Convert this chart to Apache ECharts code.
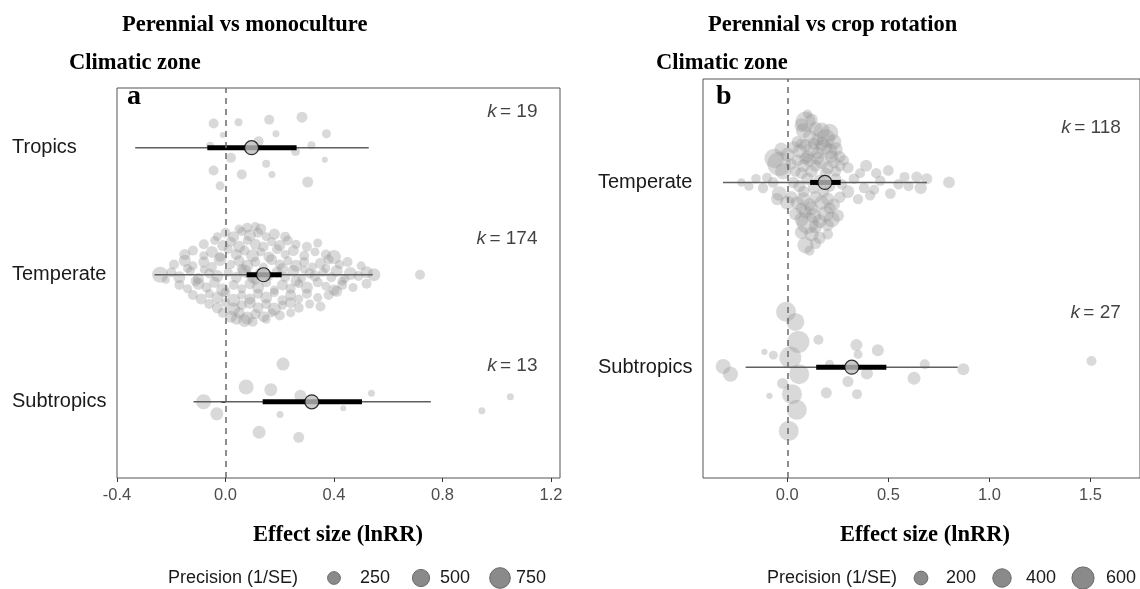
<!DOCTYPE html>
<html><head><meta charset="utf-8">
<script src="https://cdn.jsdelivr.net/npm/echarts@6/dist/echarts.min.js"></script>
<style>html,body{margin:0;padding:0;background:#fff}#c{width:1140px;height:589px}</style>
</head><body><div id="c"></div>
<script>
// ---------------- DATA ----------------
// Left panel: Perennial vs monoculture (y position: Subtropics=1, Temperate=2, Tropics=3)
const leftCategories = ['Subtropics', 'Temperate', 'Tropics'];
const leftK = [13, 174, 19];
const leftMean = [0.318, 0.140, 0.096];
const leftCILow = [0.137, 0.078, -0.067];
const leftCIHigh = [0.503, 0.207, 0.262];
const leftPILow = [-0.118, -0.262, -0.333];
const leftPIHigh = [0.757, 0.543, 0.528];
const leftXTicks = [-0.4, 0.0, 0.4, 0.8, 1.2];
const leftLegendValues = [250, 500, 750];

// individual effect sizes: [lnRR, vertical jitter, precision]
const leftTropicsPoints = [
 [-0.044,0.19,132],[0.048,0.20,64],[0.161,0.22,132],[0.282,0.24,172],[-0.01,0.10,11],
 [0.186,0.11,36],[0.372,0.11,96],[0.122,0.05,132],[-0.057,0.016,64],[0.317,0.02,64],
 [0.258,-0.03,96],[0.02,-0.08,132],[0.366,-0.095,11],[0.15,-0.126,64],[-0.044,-0.18,132],
 [0.06,-0.21,132],[0.171,-0.21,36],[0.303,-0.27,172],[-0.02,-0.30,96]
];
const leftTemperatePoints = [
 [-0.241,0.00,426],[-0.20,0.02,132],[-0.17,-0.02,215],[-0.13,0.03,96],[-0.10,-0.03,172],[-0.06,0.01,132],[-0.03,-0.01,215],[0.01,0.02,96],
 [0.04,-0.02,172],[0.07,0.03,262],[0.10,-0.03,132],[0.13,0.01,215],[0.16,-0.01,96],[0.19,0.02,172],[0.22,-0.02,132],[0.25,0.03,215],
 [0.28,-0.03,96],[0.31,0.01,132],[0.33,-0.01,172],[0.36,0.02,96],[0.39,-0.02,132],[0.41,0.03,215],[0.44,-0.03,96],[0.46,0.01,262],
 [0.49,-0.01,132],[0.52,0.02,215],[0.547,0.0,262],[-0.22,-0.04,64],[0.085,0.0,64],[0.29,0.04,64],[0.717,0.0,132],[-0.08,0.04,64],
 [-0.19,0.08,132],[-0.15,0.11,215],[-0.12,0.07,96],[-0.08,0.10,172],[-0.05,0.06,132],[-0.02,0.12,262],[0.02,0.08,96],[0.05,0.11,172],
 [0.08,0.07,215],[0.11,0.10,132],[0.14,0.06,96],[0.17,0.12,172],[0.20,0.08,132],[0.23,0.11,96],[0.26,0.07,215],[0.29,0.10,132],
 [0.32,0.06,96],[0.35,0.09,172],[0.38,0.12,132],[0.42,0.08,96],[0.45,0.10,132],[0.50,0.07,96],
 [-0.17,-0.08,132],[-0.14,-0.11,96],[-0.10,-0.07,215],[-0.07,-0.10,132],[-0.04,-0.06,172],[-0.01,-0.12,262],[0.03,-0.08,132],[0.06,-0.11,96],
 [0.09,-0.07,172],[0.12,-0.10,215],[0.15,-0.06,132],[0.18,-0.12,96],[0.21,-0.08,172],[0.24,-0.11,132],[0.27,-0.07,96],[0.30,-0.10,215],
 [0.34,-0.06,132],[0.37,-0.09,96],[0.40,-0.12,172],[0.43,-0.08,132],[0.47,-0.10,96],[0.52,-0.07,132],
 [-0.15,0.16,172],[-0.12,0.19,132],[-0.08,0.15,96],[-0.05,0.18,215],[-0.02,0.14,132],[0.01,0.20,96],[0.04,0.16,172],[0.07,0.19,132],
 [0.10,0.15,262],[0.13,0.18,96],[0.16,0.14,172],[0.19,0.20,132],[0.22,0.16,96],[0.25,0.19,172],[0.29,0.15,132],[0.33,0.18,96],
 [0.37,0.16,132],[0.40,0.14,313],
 [-0.12,-0.16,132],[-0.09,-0.19,172],[-0.06,-0.15,96],[-0.03,-0.18,215],[0.0,-0.14,132],[0.03,-0.20,262],[0.06,-0.16,96],[0.09,-0.19,172],
 [0.12,-0.15,132],[0.15,-0.18,215],[0.18,-0.14,96],[0.21,-0.20,132],[0.24,-0.16,172],[0.27,-0.19,96],[0.30,-0.15,132],[0.34,-0.18,96],
 [0.38,-0.16,132],[0.41,-0.13,172],
 [-0.08,0.24,132],[-0.04,0.27,96],[-0.01,0.23,172],[0.02,0.26,132],[0.05,0.22,215],[0.08,0.27,96],[0.11,0.24,172],[0.14,0.22,132],
 [0.17,0.26,96],[0.20,0.23,172],[0.23,0.27,132],[0.26,0.24,96],[0.30,0.22,132],[0.34,0.25,96],
 [-0.06,-0.23,132],[-0.03,-0.26,172],[0.0,-0.22,96],[0.03,-0.27,262],[0.06,-0.24,132],[0.09,-0.22,215],[0.12,-0.26,172],[0.15,-0.23,132],
 [0.18,-0.27,262],[0.21,-0.24,96],[0.24,-0.22,172],[0.27,-0.26,132],[0.31,-0.23,96],[0.35,-0.25,132],
 [-0.03,0.30,96],[0.0,0.33,132],[0.03,0.30,172],[0.06,0.34,96],[0.09,0.31,215],[0.12,0.33,132],[0.15,0.30,96],[0.18,0.32,172],[0.22,0.30,132],
 [-0.01,-0.30,132],[0.02,-0.33,215],[0.05,-0.30,172],[0.08,-0.34,262],[0.11,-0.31,132],[0.14,-0.33,172],[0.17,-0.30,96],[0.20,-0.32,132],[0.24,-0.30,96],
 [0.08,0.37,132],[0.11,0.38,96],[0.13,0.36,172],[0.05,0.36,96],[0.07,-0.36,262],[0.10,-0.37,132],[0.15,-0.35,96],[0.04,-0.35,172],
 [-0.14,0.05,96],[0.06,0.045,132],[0.21,0.05,172],[0.37,0.05,96],[-0.11,-0.05,132],[0.11,-0.045,96],[0.26,-0.05,172],[0.43,-0.05,96]
];
const leftSubtropicsPoints = [
 [0.212,0.297,262],[0.076,0.116,370],[0.167,0.095,262],[0.276,0.047,215],[0.538,0.068,36],
 [-0.081,0.0,370],[-0.032,-0.095,262],[0.434,-0.05,11],[0.201,-0.10,36],[0.124,-0.24,262],
 [0.27,-0.28,172],[0.945,-0.07,36],[1.05,0.04,36]
];

// Right panel: Perennial vs crop rotation (y position: Subtropics=1, Temperate=2)
const rightCategories = ['Subtropics', 'Temperate'];
const rightK = [27, 118];
const rightMean = [0.319, 0.186];
const rightCILow = [0.143, 0.113];
const rightCIHigh = [0.490, 0.264];
const rightPILow = [-0.206, -0.318];
const rightPIHigh = [0.843, 0.691];
const rightXTicks = [0.0, 0.5, 1.0, 1.5];
const rightLegendValues = [200, 400, 600];

const rightTemperatePoints = [
 [-0.227,0.0,40],[-0.19,-0.02,60],[-0.155,0.02,70],[-0.12,-0.03,90],[-0.10,0.025,80],[-0.07,0.0,100],[0.80,0.0,130],
 [-0.04,0.10,700],[-0.065,0.13,450],[0.0,0.15,200],[-0.04,-0.06,230],[-0.05,-0.09,150],[0.0,-0.11,220],[-0.02,0.06,300],[-0.03,0.18,180],
 [0.28,0.12,90],[0.30,0.08,120],[0.36,0.05,80],[0.39,0.09,140],[0.44,0.05,90],[0.50,0.065,100],[0.55,-0.01,90],[0.64,0.03,100],
 [0.66,-0.03,150],[0.51,-0.06,100],[0.41,-0.07,90],[0.30,-0.05,160],[0.38,-0.03,100],[0.46,0.01,90],[0.58,0.03,80],[0.69,0.02,110],
 [0.33,0.02,100],[0.43,-0.04,80],[0.35,-0.09,90],[0.60,-0.02,80],
 [0.09,0.33,480],[0.10,0.37,60],[0.12,0.34,150],[0.07,0.31,200],
 [0.08,0.28,250],[0.14,0.29,200],[0.17,0.28,300],[0.21,0.27,350],[0.11,0.25,180],[0.19,0.24,400],[0.23,0.22,250],[0.15,0.23,150],[0.05,0.22,120],
 [0.03,0.19,150],[0.06,0.17,200],[0.09,0.20,180],[0.12,0.18,220],[0.15,0.16,150],[0.18,0.19,300],[0.21,0.17,260],[0.24,0.18,200],
 [0.26,0.14,120],[0.10,0.14,140],[0.07,0.21,100],[0.17,0.21,200],[0.22,0.14,180],[0.13,0.21,130],
 [0.02,0.10,120],[0.05,0.12,140],[0.08,0.09,160],[0.11,0.12,180],[0.14,0.09,140],[0.17,0.11,200],[0.20,0.08,160],[0.23,0.11,140],
 [0.26,0.09,110],[0.04,0.06,100],[0.07,0.05,130],[0.12,0.06,150],[0.19,0.05,120],[0.24,0.06,100],[0.15,0.13,170],[0.09,0.13,150],
 [0.03,0.0,120],[0.06,-0.02,140],[0.10,0.02,150],[0.13,-0.03,130],[0.16,0.01,140],[0.21,-0.02,120],[0.24,0.02,110],[0.27,-0.01,100],
 [0.08,-0.05,130],[0.18,-0.05,120],
 [0.02,-0.08,150],[0.05,-0.11,180],[0.08,-0.09,200],[0.11,-0.12,160],[0.14,-0.08,150],[0.17,-0.11,220],[0.20,-0.09,180],[0.23,-0.12,150],
 [0.26,-0.08,120],[0.12,-0.14,200],[0.07,-0.14,130],[0.21,-0.14,140],
 [0.04,-0.17,160],[0.07,-0.20,200],[0.10,-0.22,580],[0.13,-0.18,250],[0.16,-0.21,200],[0.19,-0.17,300],[0.22,-0.20,280],[0.25,-0.18,150],
 [0.14,-0.24,180],[0.09,-0.16,170],[0.20,-0.23,150],
 [0.09,-0.34,300],[0.11,-0.37,80],[0.12,-0.28,220],[0.16,-0.30,150],[0.20,-0.28,100],[0.07,-0.27,180],[0.14,-0.33,120]
];
const rightSubtropicsPoints = [
 [-0.006,0.30,480],[0.04,0.245,380],[0.055,0.137,590],[0.154,0.148,80],[-0.113,0.083,0],
 [-0.069,0.065,55],[0.015,0.052,590],[0.342,0.12,140],[0.35,0.069,55],[0.448,0.092,140],
 [0.209,0.016,55],[0.68,0.016,80],[-0.317,0.004,250],[-0.281,-0.038,250],[0.059,-0.038,480],
 [0.394,-0.034,140],[0.871,-0.011,140],[0.627,-0.06,170],[0.30,-0.078,110],[-0.023,-0.088,110],
 [-0.088,-0.155,0],[0.023,-0.146,480],[0.193,-0.139,110],[0.345,-0.146,80],[0.047,-0.231,480],
 [0.007,-0.345,480],[1.505,0.033,80]
];

// ---------------- STYLE / HELPERS ----------------
const sizeL = p => Math.sqrt(30 + 0.53 * p);
const sizeR = p => Math.sqrt(40 + 0.75 * p);
const SANS = '"Liberation Sans", Arial, sans-serif';
const SERIF = '"Liberation Serif", "Times New Roman", serif';
const ptColor = 'rgba(150,150,150,0.45)';

function jitterData(points, yc) { return points.map(d => [d[0], yc + d[1], d[2]]); }

function intervalRender(params, api) {
  const y = api.value(0);
  const p1 = api.coord([api.value(1), y]), p2 = api.coord([api.value(2), y]);
  const c1 = api.coord([api.value(3), y]), c2 = api.coord([api.value(4), y]);
  return { type: 'group', children: [
    { type: 'line', shape: { x1: p1[0], y1: p1[1], x2: p2[0], y2: p2[1] }, style: { stroke: '#5f5f5f', lineWidth: 1.5 } },
    { type: 'line', shape: { x1: c1[0], y1: c1[1], x2: c2[0], y2: c2[1] }, style: { stroke: '#000', lineWidth: 5 } }
  ]};
}

function xAxisCfg(idx, min, max, ticks) {
  return {
    type: 'value', gridIndex: idx, min: min, max: max,
    axisLine: { show: false },
    splitLine: { show: false },
    axisTick: { show: true, length: 4, lineStyle: { color: '#333', width: 1 }, customValues: ticks },
    axisLabel: { customValues: ticks, formatter: v => v.toFixed(1), fontFamily: SANS, fontSize: 16.5, color: '#4d4d4d', margin: 9 }
  };
}
function yAxisCfg(idx, min, max, cats) {
  const vals = cats.map((c, i) => i + 1);
  return {
    type: 'value', gridIndex: idx, min: min, max: max,
    axisLine: { show: false },
    splitLine: { show: false },
    axisTick: { show: true, length: 4, lineStyle: { color: '#333', width: 1 }, customValues: vals },
    axisLabel: { customValues: vals, formatter: v => cats[Math.round(v) - 1] || '', fontFamily: SANS, fontSize: 20,
      color: '#1a1a1a', margin: 105, align: 'left' }
  };
}

function panelSeries(idx, groups, sizeFn, mean, ciL, ciH, piL, piH, ks, kx, kdy) {
  const s = [];
  groups.forEach((pts, i) => {
    s.push({ type: 'scatter', xAxisIndex: idx, yAxisIndex: idx, data: jitterData(pts, i + 1),
      symbolSize: v => sizeFn(v[2]), itemStyle: { color: ptColor }, z: 2, silent: true });
  });
  s.push({ type: 'scatter', xAxisIndex: idx, yAxisIndex: idx, data: [], z: 3, silent: true,
    markLine: { silent: true, symbol: 'none', label: { show: false },
      lineStyle: { color: '#6a6a6a', type: [6, 5], width: 1.5 }, data: [{ xAxis: 0 }] } });
  s.push({ type: 'custom', xAxisIndex: idx, yAxisIndex: idx, renderItem: intervalRender, z: 4, silent: true,
    encode: { x: [1, 2, 3, 4], y: 0 },
    data: mean.map((m, i) => [i + 1, piL[i], piH[i], ciL[i], ciH[i]]) });
  s.push({ type: 'scatter', xAxisIndex: idx, yAxisIndex: idx, z: 5, silent: true, symbolSize: 14,
    itemStyle: { color: '#bdbdbd', borderColor: '#000', borderWidth: 1.2 },
    data: mean.map((m, i) => [m, i + 1]) });
  s.push({ type: 'scatter', xAxisIndex: idx, yAxisIndex: idx, z: 6, silent: true, symbolSize: 0,
    data: ks.map((k, i) => [kx, i + 1 + kdy, k]),
    label: { show: true, position: 'inside', align: 'right', verticalAlign: 'middle',
      formatter: p => '{i|k} {n|= ' + p.value[2] + '}',
      rich: { i: { fontStyle: 'italic', fontFamily: SANS, fontSize: 19, color: '#111' },
              n: { fontFamily: SANS, fontSize: 19, color: '#111' } } } });
  return s;
}

function legendGraphics(x0, circleX, labelX, values, sizeFn, y) {
  const g = [{ type: 'text', x: x0, y: y, style: { text: 'Precision (1/SE)', font: '18px ' + SANS, fill: '#1a1a1a', align: 'left', verticalAlign: 'middle' } }];
  values.forEach((v, i) => {
    g.push({ type: 'circle', shape: { cx: circleX[i], cy: y, r: sizeFn(v) / 2 }, style: { fill: '#8a8a8a', stroke: '#6a6a6a', lineWidth: 1 } });
    g.push({ type: 'text', x: labelX[i], y: y, style: { text: String(v), font: '18px ' + SANS, fill: '#1a1a1a', align: 'left', verticalAlign: 'middle' } });
  });
  return g;
}

const chart = echarts.init(document.getElementById('c'));
const option = {
  animation: false,
  backgroundColor: '#fff',
  grid: [
    { left: 117, top: 88, width: 443, height: 390, show: true, borderColor: '#555', borderWidth: 1, backgroundColor: 'transparent' },
    { left: 703, top: 79, width: 441, height: 399, show: true, borderColor: '#555', borderWidth: 1, backgroundColor: 'transparent' }
  ],
  xAxis: [ xAxisCfg(0, -0.4, 1.233, leftXTicks), xAxisCfg(1, -0.417, 1.745, rightXTicks) ],
  yAxis: [ yAxisCfg(0, 0.4, 3.47, leftCategories), yAxisCfg(1, 0.4, 2.56, rightCategories) ],
  series: [].concat(
    panelSeries(0, [leftSubtropicsPoints, leftTemperatePoints, leftTropicsPoints], sizeL,
      leftMean, leftCILow, leftCIHigh, leftPILow, leftPIHigh, leftK, 1.15, 0.285),
    panelSeries(1, [rightSubtropicsPoints, rightTemperatePoints], sizeR,
      rightMean, rightCILow, rightCIHigh, rightPILow, rightPIHigh, rightK, 1.65, 0.297)
  ),
  graphic: [
    { type: 'text', x: 122, y: 25, style: { text: 'Perennial vs monoculture', font: 'bold 22.5px ' + SERIF, fill: '#000', align: 'left', verticalAlign: 'middle' } },
    { type: 'text', x: 69, y: 63, style: { text: 'Climatic zone', font: 'bold 22.5px ' + SERIF, fill: '#000', align: 'left', verticalAlign: 'middle' } },
    { type: 'text', x: 708, y: 25, style: { text: 'Perennial vs crop rotation', font: 'bold 22.5px ' + SERIF, fill: '#000', align: 'left', verticalAlign: 'middle' } },
    { type: 'text', x: 656, y: 63, style: { text: 'Climatic zone', font: 'bold 22.5px ' + SERIF, fill: '#000', align: 'left', verticalAlign: 'middle' } },
    { type: 'text', x: 127, y: 97, style: { text: 'a', font: 'bold 28px ' + SERIF, fill: '#000', align: 'left', verticalAlign: 'middle' } },
    { type: 'text', x: 716, y: 97, style: { text: 'b', font: 'bold 28px ' + SERIF, fill: '#000', align: 'left', verticalAlign: 'middle' } },
    { type: 'text', x: 338, y: 535, style: { text: 'Effect size (lnRR)', font: 'bold 22.5px ' + SERIF, fill: '#000', align: 'center', verticalAlign: 'middle' } },
    { type: 'text', x: 925, y: 535, style: { text: 'Effect size (lnRR)', font: 'bold 22.5px ' + SERIF, fill: '#000', align: 'center', verticalAlign: 'middle' } }
  ].concat(
    legendGraphics(168, [334, 421, 500], [360, 440, 516], leftLegendValues, sizeL, 578),
    legendGraphics(767, [921, 1002, 1083], [946, 1026, 1106], rightLegendValues, sizeR, 578)
  )
};
chart.setOption(option);
</script>
</body></html>
